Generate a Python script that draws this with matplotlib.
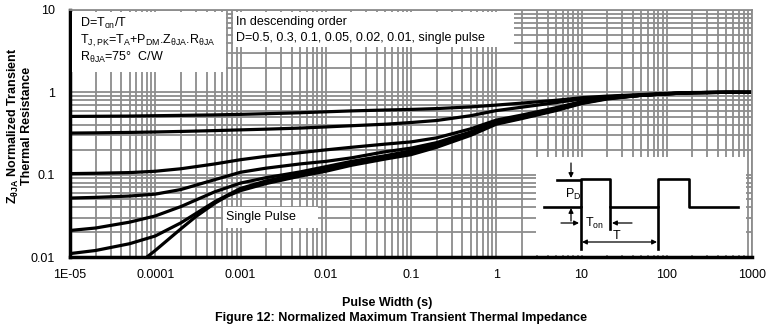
import matplotlib
matplotlib.use("Agg")
import matplotlib.pyplot as plt

plt.rcParams['font.family'] = ['Liberation Sans', 'DejaVu Sans']
plt.rcParams['mathtext.default'] = 'regular'

# pulse width (s)
t = [1e-5, 2e-5, 5e-5, 1e-4, 2e-4, 5e-4, 1e-3, 2e-3, 5e-3, 1e-2, 2e-2, 5e-2, 0.1, 0.2, 0.5,
     1, 2, 5, 10, 20, 50, 100, 200, 500, 1000]

# normalized transient thermal impedance, one list per duty cycle
z_d50 = [0.51, 0.512, 0.515, 0.52, 0.525, 0.532, 0.54, 0.55, 0.565, 0.58, 0.595, 0.61, 0.62, 0.635, 0.665,
         0.70, 0.74, 0.80, 0.86, 0.90, 0.94, 0.97, 0.995, 1.0, 1.0]
z_d30 = [0.32, 0.322, 0.326, 0.33, 0.335, 0.343, 0.35, 0.357, 0.368, 0.38, 0.393, 0.41, 0.43, 0.455, 0.52,
         0.60, 0.66, 0.75, 0.83, 0.88, 0.93, 0.965, 0.99, 1.0, 1.0]
z_d10 = [0.103, 0.104, 0.106, 0.11, 0.118, 0.135, 0.152, 0.167, 0.185, 0.20, 0.215, 0.235, 0.25, 0.28, 0.36,
         0.46, 0.53, 0.65, 0.77, 0.86, 0.92, 0.96, 0.99, 1.0, 1.0]
z_d05 = [0.052, 0.053, 0.055, 0.058, 0.066, 0.087, 0.107, 0.12, 0.135, 0.145, 0.16, 0.19, 0.21, 0.245, 0.33,
         0.44, 0.51, 0.63, 0.76, 0.85, 0.92, 0.96, 0.99, 1.0, 1.0]
z_d02 = [0.021, 0.0225, 0.0265, 0.0315, 0.041, 0.062, 0.079, 0.092, 0.108, 0.125, 0.145, 0.17, 0.195, 0.235, 0.32,
         0.43, 0.50, 0.62, 0.75, 0.85, 0.92, 0.96, 0.99, 1.0, 1.0]
z_d01 = [0.011, 0.012, 0.0145, 0.018, 0.026, 0.047, 0.068, 0.084, 0.102, 0.118, 0.138, 0.163, 0.185, 0.225, 0.31,
         0.42, 0.49, 0.61, 0.74, 0.84, 0.92, 0.96, 0.99, 1.0, 1.0]

t_single = [8e-5, 1e-4, 2e-4, 3e-4, 5e-4, 7e-4, 1e-3, 2e-3, 5e-3, 1e-2, 2e-2, 5e-2, 0.1, 0.2, 0.5,
            1, 2, 5, 10, 20, 50, 100, 200, 500, 1000]
z_single = [0.01, 0.012, 0.022, 0.031, 0.045, 0.055, 0.064, 0.078, 0.096, 0.11, 0.13, 0.155, 0.175, 0.215, 0.30,
            0.41, 0.48, 0.60, 0.73, 0.83, 0.92, 0.96, 0.99, 1.0, 1.0]

xticks = [1e-5, 1e-4, 1e-3, 1e-2, 0.1, 1, 10, 100, 1000]
xlabels = ['1E-05', '0.0001', '0.001', '0.01', '0.1', '1', '10', '100', '1000']
yticks = [0.01, 0.1, 1, 10]
ylabels = ['0.01', '0.1', '1', '10']

W, H = 780, 330
fig = plt.figure(figsize=(7.8, 3.3), dpi=100)
ax = fig.add_axes([70 / W, 1 - 257 / H, 682 / W, 247 / H])
ax.set_xscale('log')
ax.set_yscale('log')
ax.set_xlim(1e-5, 1000)
ax.set_ylim(0.01, 10)

ax.grid(which='both', color='#8c8c8c', lw=1.3)
ax.set_axisbelow(True)
for s in ['top', 'right']:
    ax.spines[s].set_color('#8c8c8c')
    ax.spines[s].set_linewidth(1.3)
for s in ['left', 'bottom']:
    ax.spines[s].set_color('black')
    ax.spines[s].set_linewidth(2.5)

ax.set_xticks(xticks)
ax.set_xticklabels(xlabels)
ax.set_yticks(yticks)
ax.set_yticklabels(ylabels)
ax.tick_params(which='both', length=0, labelsize=9)
ax.tick_params(axis='x', pad=9)
ax.tick_params(axis='y', pad=11)

for z in [z_d50, z_d30, z_d10, z_d05, z_d02, z_d01]:
    ax.plot(t, z, color='black', lw=2.3, solid_capstyle='butt', solid_joinstyle='round')
ax.plot(t_single, z_single, color='black', lw=2.3, solid_capstyle='butt', solid_joinstyle='round')

# overlay in figure pixels for boxes and the pulse sketch
ov = fig.add_axes([0, 0, 1, 1])
ov.set_xlim(0, W)
ov.set_ylim(H, 0)
ov.axis('off')
ov.patch.set_alpha(0)

def box(x0, y0, x1, y1):
    ov.add_patch(plt.Rectangle((x0, y0), x1 - x0, y1 - y0, color='white', lw=0))

box(72, 12, 226, 72)
box(233, 12, 514, 47)
box(223, 207, 318, 228)
box(536, 157, 746, 255)

fs = 9
ov.text(80, 23, 'D=T$_{on}$/T', fontsize=fs, va='center')
ov.text(80, 41, 'T$_{J,PK}$=T$_A$+P$_{DM}$.Z$_{θJA}$.R$_{θJA}$', fontsize=fs, va='center')
ov.text(80, 57, 'R$_{θJA}$=75°  C/W', fontsize=fs, va='center')
ov.text(236, 22, 'In descending order', fontsize=fs, va='center')
ov.text(236, 38, 'D=0.5, 0.3, 0.1, 0.05, 0.02, 0.01, single pulse', fontsize=fs, va='center')
ov.text(226, 217, 'Single Pulse', fontsize=fs, va='center')

# pulse train sketch
px = [544, 581, 581, 610, 610, 658, 658, 689, 689, 738]
py = [207, 207, 179, 179, 207, 207, 179, 179, 207, 207]
ov.plot(px, py, color='black', lw=1.9)
ov.plot([581, 581], [207, 249], color='black', lw=1.9)
ov.plot([610, 610], [207, 229], color='black', lw=1.9)
ov.plot([658, 658], [207, 249], color='black', lw=1.9)
ov.plot([557, 580], [180, 180], color='black', lw=1.9)
arw = dict(arrowstyle='-|>', color='black', lw=0.9, mutation_scale=7, shrinkA=0, shrinkB=0)
ov.annotate('', xy=(571, 178), xytext=(571, 163), arrowprops=arw)
ov.annotate('', xy=(571, 208), xytext=(571, 221), arrowprops=arw)
ov.annotate('', xy=(579, 223), xytext=(561, 223), arrowprops=arw)
ov.annotate('', xy=(612, 223), xytext=(632, 223), arrowprops=arw)
ov.annotate('', xy=(657, 242), xytext=(582, 242),
            arrowprops=dict(arrowstyle='<|-|>', color='black', lw=0.9, mutation_scale=7, shrinkA=0, shrinkB=0))
ov.text(565, 194, 'P$_D$', fontsize=fs, va='center')
ov.text(585, 223, 'T$_{on}$', fontsize=fs, va='center')
ov.text(617, 236, 'T', fontsize=fs, va='center', ha='center')

# axis titles
fig.text(19 / W, 1 - 126 / H, 'Z$_{θJA}$ Normalized Transient\nThermal Resistance', rotation=90,
         ha='center', va='center', multialignment='center', fontsize=9, fontweight='bold',
         linespacing=1.0)
fig.text(387 / W, 1 - 303 / H, 'Pulse Width (s)', ha='center', va='center', fontsize=9, fontweight='bold')
fig.text(401 / W, 1 - 318 / H, 'Figure 12: Normalized Maximum Transient Thermal Impedance',
         ha='center', va='center', fontsize=9, fontweight='bold')

fig.savefig('out.png', dpi=100)
